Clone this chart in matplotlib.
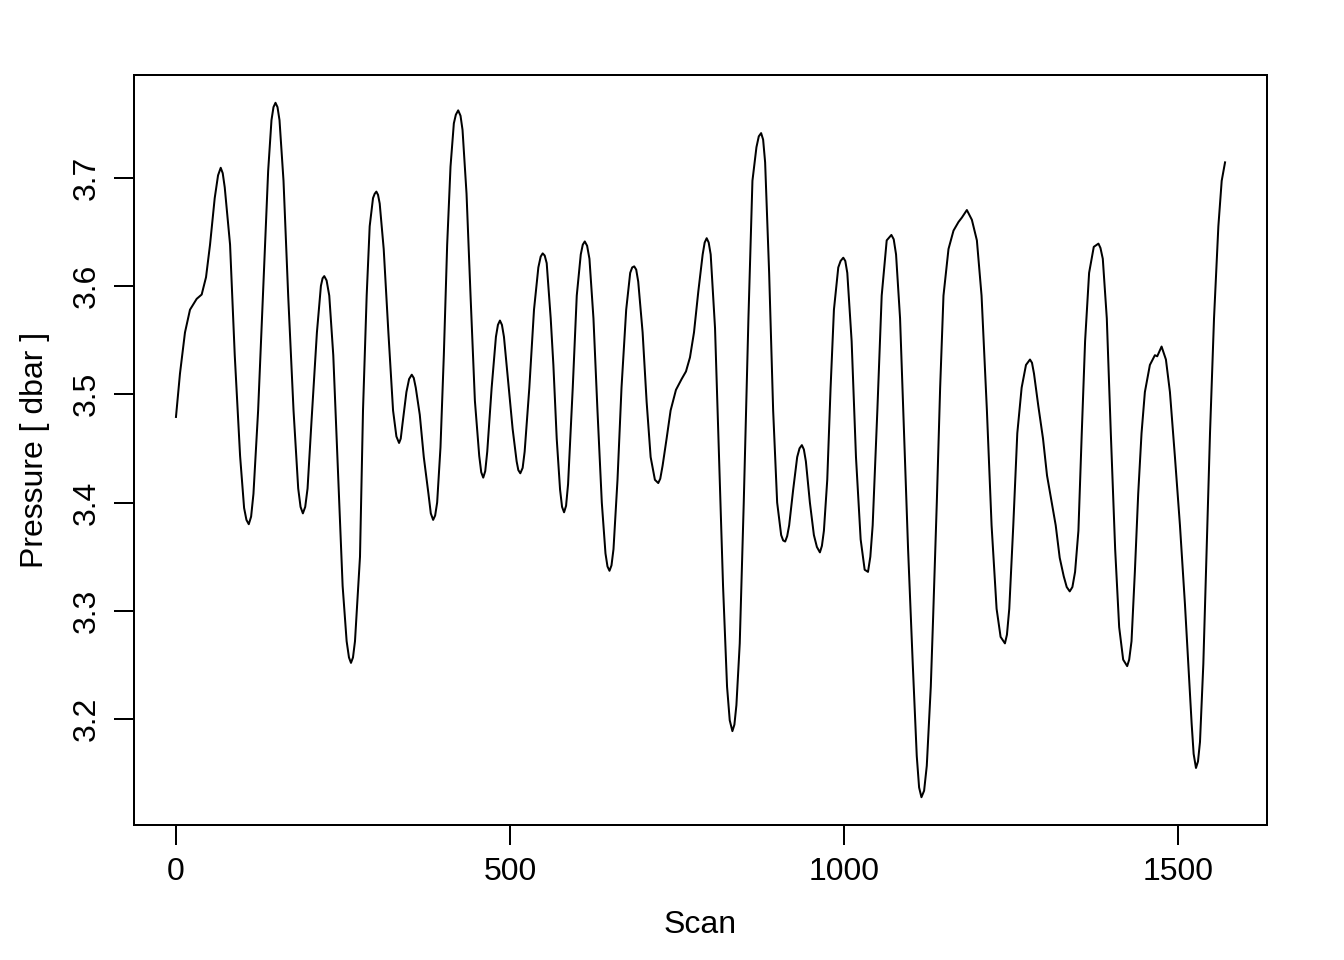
import numpy as np
import matplotlib.pyplot as plt

plt.rcParams['font.family'] = ['Liberation Sans', 'DejaVu Sans']

# scan numbers and pressure values
scan = [0, 6, 13.5, 21, 31, 38.5, 45, 51, 58, 67, 73, 81, 88, 96, 102, 109,
        116, 123, 131, 138, 143, 149, 155, 161, 168, 176, 183, 190, 197, 203,
        211, 217, 222, 229.5, 235.5, 243, 249.5, 255.5, 262, 268, 275.5, 280,
        285.5, 290, 295, 300, 305, 311, 318, 325, 330, 334, 339, 345, 353, 359,
        365, 371, 378, 385, 391, 396, 401, 406, 411, 416, 422.5, 429, 435, 441,
        447.5, 454, 460, 466, 472.6, 479, 485, 491, 497.5, 504, 510, 515.5,
        522, 529, 536, 542.5, 549, 555, 561, 565, 570, 575, 581, 587, 594, 600,
        606, 612, 619, 625, 631, 637.5, 643, 649, 655, 661, 667, 674, 680, 686,
        692, 698.6, 704.6, 710.6, 717, 722, 728.5, 734.5, 740.5, 748.5, 757,
        763.5, 769.5, 775.5, 782, 788.5, 794.5, 800.5, 807, 813, 819, 825, 833,
        839, 844, 850, 857, 863, 869, 876, 882, 888, 894, 900, 906, 912, 918,
        924, 930, 937, 943, 949, 955, 964, 970, 975, 980, 985, 991.5, 999,
        1005, 1011.5, 1018, 1025, 1031, 1036, 1043, 1050, 1056.5, 1064, 1071,
        1078, 1084, 1090, 1096, 1103, 1109, 1116, 1124, 1130, 1133.5, 1139,
        1144, 1149, 1156.5, 1164, 1171.5, 1176.5, 1184, 1191.5, 1199, 1206,
        1214, 1221, 1228.5, 1234.5, 1241, 1247.5, 1253.5, 1259.5, 1266, 1272.5,
        1278.5, 1284.5, 1291, 1298, 1304, 1311, 1317, 1323, 1329, 1338, 1346,
        1351, 1356, 1361, 1367, 1374, 1381, 1387.5, 1393.5, 1399.5, 1406, 1412,
        1418, 1424, 1430.5, 1435.5, 1440.5, 1445.5, 1450.5, 1458, 1465.5, 1469,
        1475.5, 1482, 1488, 1495.5, 1503, 1510.5, 1515.5, 1520.5, 1527, 1533,
        1538, 1543, 1548, 1554, 1560.5, 1565.5, 1570.5]

pressure = [3.479, 3.519, 3.557, 3.578, 3.588, 3.592, 3.608, 3.638, 3.681,
            3.709, 3.691, 3.638, 3.536, 3.443, 3.395, 3.380, 3.408, 3.485,
            3.604, 3.706, 3.753, 3.769, 3.753, 3.697, 3.591, 3.485, 3.413,
            3.390, 3.413, 3.476, 3.557, 3.600, 3.609, 3.591, 3.536, 3.421,
            3.323, 3.272, 3.252, 3.272, 3.350, 3.485, 3.591, 3.655, 3.681,
            3.687, 3.676, 3.634, 3.557, 3.485, 3.461, 3.455, 3.472, 3.502,
            3.518, 3.506, 3.481, 3.442, 3.408, 3.384, 3.400, 3.451, 3.536,
            3.638, 3.710, 3.750, 3.762, 3.744, 3.685, 3.591, 3.494, 3.443,
            3.423, 3.447, 3.506, 3.553, 3.568, 3.553, 3.510, 3.468, 3.438,
            3.427, 3.447, 3.506, 3.578, 3.617, 3.630, 3.621, 3.570, 3.527,
            3.459, 3.412, 3.391, 3.417, 3.506, 3.591, 3.629, 3.641, 3.625,
            3.570, 3.485, 3.400, 3.353, 3.337, 3.357, 3.421, 3.506, 3.578,
            3.612, 3.618, 3.604, 3.557, 3.493, 3.442, 3.421, 3.418, 3.434,
            3.459, 3.485, 3.504, 3.514, 3.521, 3.534, 3.557, 3.595, 3.629,
            3.644, 3.629, 3.561, 3.442, 3.323, 3.230, 3.189, 3.213, 3.270,
            3.400, 3.570, 3.697, 3.728, 3.741, 3.714, 3.612, 3.485, 3.400,
            3.370, 3.364, 3.379, 3.412, 3.442, 3.453, 3.438, 3.400, 3.370,
            3.354, 3.374, 3.421, 3.506, 3.578, 3.617, 3.626, 3.612, 3.549,
            3.442, 3.366, 3.338, 3.336, 3.379, 3.485, 3.591, 3.642, 3.647,
            3.629, 3.570, 3.464, 3.357, 3.251, 3.166, 3.128, 3.157, 3.230,
            3.294, 3.400, 3.506, 3.591, 3.634, 3.651, 3.659, 3.663, 3.670,
            3.661, 3.642, 3.591, 3.485, 3.379, 3.302, 3.276, 3.270, 3.302,
            3.379, 3.464, 3.506, 3.527, 3.532, 3.519, 3.489, 3.459, 3.425,
            3.400, 3.379, 3.349, 3.332, 3.318, 3.336, 3.374, 3.464, 3.549,
            3.612, 3.636, 3.639, 3.625, 3.570, 3.464, 3.357, 3.285, 3.255,
            3.249, 3.272, 3.336, 3.408, 3.464, 3.502, 3.527, 3.536, 3.535,
            3.544, 3.532, 3.502, 3.442, 3.379, 3.306, 3.251, 3.196, 3.155,
            3.179, 3.251, 3.357, 3.464, 3.570, 3.655, 3.697, 3.714]

# extra readings close to the peaks and troughs (rounded tops)
scan_near_ext = [63, 70, 105.5, 112.5, 146, 152, 186.5, 193.5, 219.5, 225.5,
                 259, 265, 297.5, 302.5, 336.5, 349, 356, 381.5, 388, 419,
                 426, 457, 463, 482, 488, 512.5, 519, 546, 552, 578, 584, 609,
                 615.5, 646, 652, 683, 689, 725, 791.5, 797.5, 829, 836,
                 872.5, 879, 909, 915, 933.5, 940, 959.5, 967, 995, 1002,
                 1039.5, 1074.5, 1112.5, 1120, 1244, 1281.5, 1333.5, 1342,
                 1384, 1427, 1523.5, 1530]
pressure_near_ext = [3.702, 3.704, 3.384, 3.387, 3.765, 3.765, 3.396, 3.396,
                     3.607, 3.605, 3.257, 3.257, 3.685, 3.684, 3.459, 3.514,
                     3.515, 3.390, 3.388, 3.758, 3.757, 3.428, 3.429, 3.564,
                     3.564, 3.430, 3.432, 3.627, 3.628, 3.396, 3.397, 3.638,
                     3.637, 3.341, 3.342, 3.617, 3.615, 3.422, 3.640, 3.640,
                     3.199, 3.195, 3.738, 3.735, 3.365, 3.369, 3.450, 3.449,
                     3.359, 3.360, 3.623, 3.623, 3.350, 3.643, 3.137, 3.134,
                     3.278, 3.529, 3.322, 3.322, 3.635, 3.255, 3.168, 3.161]

xticks = [0, 500, 1000, 1500]
yticks = [3.2, 3.3, 3.4, 3.5, 3.6, 3.7]

x = np.array(scan + scan_near_ext)
y = np.array(pressure + pressure_near_ext)
order = np.argsort(x, kind='stable')
x, y = x[order], y[order]

fig = plt.figure(figsize=(7, 5), dpi=192)
ax = fig.add_axes([134 / 1344, 1 - 825 / 960, 1133 / 1344, 750 / 960])
ax.plot(x, y, color='black', lw=0.75)

# R-style 4% padding on both axes
xr = x.max() - x.min()
yr = y.max() - y.min()
ax.set_xlim(x.min() - 0.04 * xr, x.max() + 0.04 * xr)
ax.set_ylim(y.min() - 0.04 * yr, y.max() + 0.04 * yr)

ax.set_xticks(xticks)
ax.set_xticklabels([str(t) for t in xticks])
ax.set_yticks(yticks)
ax.set_yticklabels([f'{t:.1f}' for t in yticks], rotation=90, va='center')
ax.tick_params(axis='both', direction='out', length=7.5, width=0.75,
               labelsize=12, pad=4.5, color='black')
for s in ax.spines.values():
    s.set_linewidth(0.75)

ax.set_xlabel('Scan', fontsize=12)
ax.xaxis.label.set_va('center')
ax.xaxis.set_label_coords(0.5, (825 - 925) / 750)
ax.set_ylabel('Pressure [ dbar ]', fontsize=12)
ax.yaxis.label.set_va('center')
ax.yaxis.set_label_coords((35 - 134) / 1133, 0.5)

fig.savefig('out.png', dpi=192)
